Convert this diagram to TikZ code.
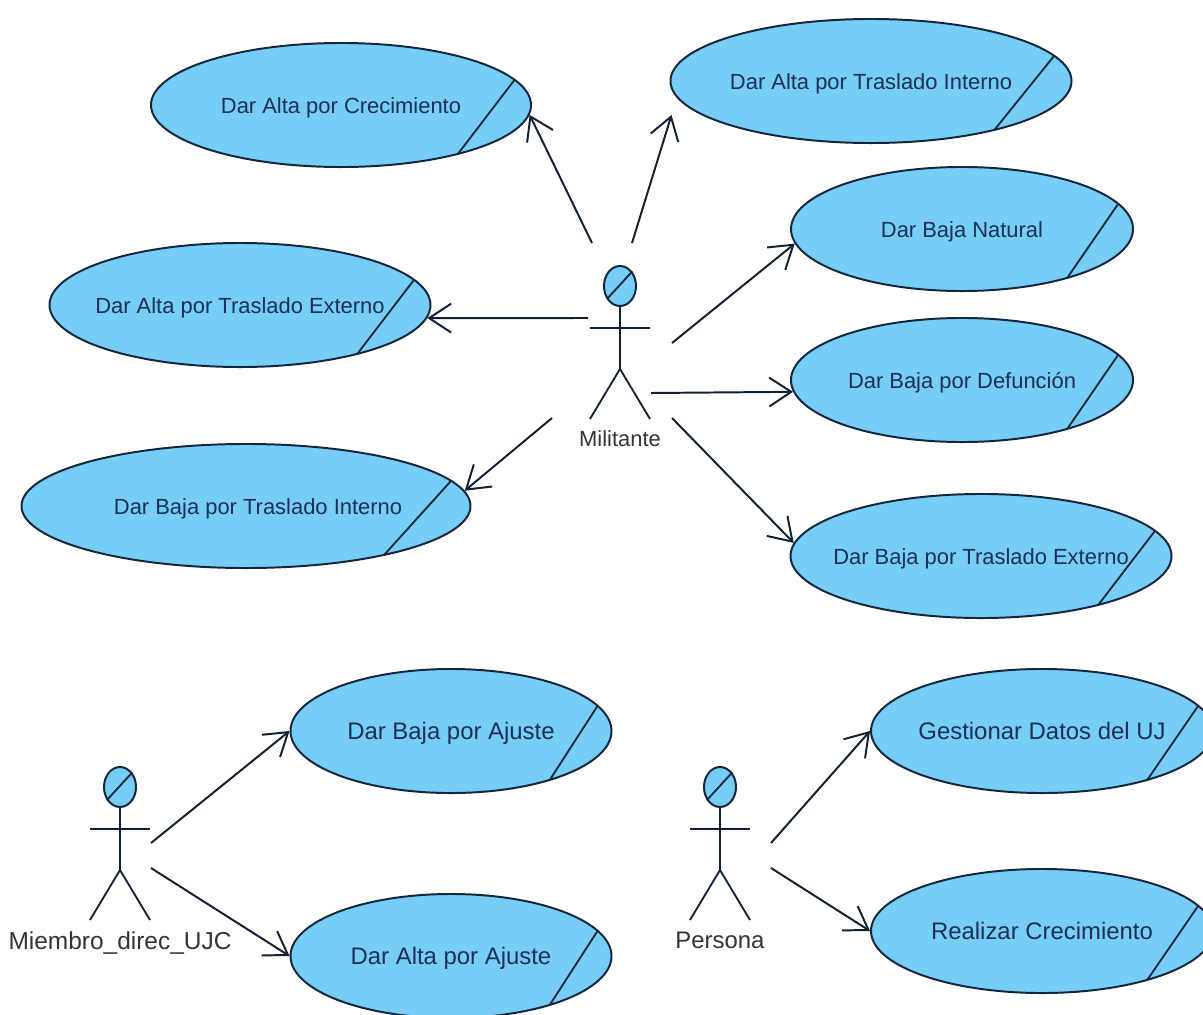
\documentclass[tikz,border=0pt]{standalone}
\usepackage{xcolor}
\usepackage{fontspec}
\setmainfont{Liberation Sans}
\usetikzlibrary{arrows.meta,shapes,calc,positioning}
\definecolor{ucfill}{HTML}{76CDF5}
\definecolor{ucline}{HTML}{14263C}
\definecolor{uctext}{HTML}{1B2F58}
\newcommand{\uctxt}[1]{\makebox[0pt]{\raisebox{-0.2cm}[0pt][0pt]{#1}}}
\begin{document}
\begin{tikzpicture}[x=0.025cm,y=-0.025cm,>={Straight Barb[length=0.55cm,width=0.72cm]}]
	\tikzstyle{every node}=[font=\fontsize{15.6}{18}\selectfont]
	\tikzstyle{usecase}=[ellipse,draw=ucline,fill=ucfill,line width=1.4pt,inner sep=0pt,minimum height=3.1cm,text=uctext]
	\tikzstyle{bigcase}=[usecase,font=\fontsize{17}{20}\selectfont]
	\tikzstyle{actorhead}=[ellipse,draw=ucline,fill=ucfill,line width=1.4pt,inner sep=0pt,minimum width=0.8cm,minimum height=1cm]
	\tikzstyle{stick}=[line width=1.3pt,draw=ucline!85!black]
	\tikzstyle{assoc}=[line width=1.4pt,draw=ucline!85!black,->]
	\path [use as bounding box,clip] (0,0) rectangle (1203,1014);
	\foreach \nm/\cx/\cy/\wid/\txt in {
		altacrec/341/105/380/{Dar Alta por Crecimiento},
		altaint/871/81/401/{Dar Alta por Traslado Interno},
		bajanat/962/229/342/{Dar Baja Natural},
		bajadef/962/380/342/{Dar Baja por Defunción},
		bajaext/981/556/381/{Dar Baja por Traslado Externo},
		altaext/240/305/381/{Dar Alta por Traslado Externo},
		bajaint/246/506/449/{\hspace*{0.6cm}Dar Baja por Traslado Interno}}
	{
		\node [usecase,minimum width=\wid*0.025cm] (\nm) at (\cx,\cy) {\uctxt{\txt}};
		\draw [ucline,line width=1.3pt] ($(\nm)+({\wid/2*cos(24)},{-62*sin(24)})$) -- ($(\nm)+({\wid/2*cos(52)},{62*sin(52)})$);
	}
	\foreach \nm/\cx/\cy/\wid/\txt in {
		bajaaju/451/731/321/{Dar Baja por Ajuste},
		altaaju/451/956/321/{Dar Alta por Ajuste},
		gestdat/1042/731/342/{Gestionar Datos del UJ},
		realcre/1042/931/342/{Realizar Crecimiento}}
	{
		\node [bigcase,minimum width=\wid*0.025cm] (\nm) at (\cx,\cy) {\uctxt{\txt}};
		\draw [ucline,line width=1.3pt] ($(\nm)+({\wid/2*cos(24)},{-62*sin(24)})$) -- ($(\nm)+({\wid/2*cos(52)},{62*sin(52)})$);
	}
	\foreach \nm/\cx/\cy/\sz/\txt in {
		militante/620/286/15.6/{Militante},
		miembro/120/787/17.4/{Miembro\_direc\_UJC},
		persona/720/787/17/{Persona}}
	{
		\node [actorhead] (\nm) at (\cx,\cy) {};
		\draw [ucline,line width=1.3pt] (\nm.225) -- (\nm.50);
		\draw [stick] (\nm.south) -- ++(0,62) coordinate (\nm hip);
		\draw [stick] ($(\nm hip)+(-30,-41)$) -- ($(\nm hip)+(30,-41)$);
		\draw [stick] ($(\nm hip)+(-30,50)$) -- (\nm hip) -- ($(\nm hip)+(30,50)$);
		\node [font=\fontsize{\sz}{20}\selectfont,text=black!80,below=0pt of \nm hip,yshift=-1.42cm] (\nm label) {\txt};
	}
	\coordinate (m1) at (592,243);
	\coordinate (m2) at (632,243);
	\coordinate (m3) at (672,343);
	\coordinate (m4) at (651,393);
	\coordinate (m5) at (672,418);
	\coordinate (m6) at (588,318);
	\coordinate (m7) at (552,418);
	\coordinate (d1) at (151,843);
	\coordinate (d2) at (151,868);
	\coordinate (p1) at (771,843);
	\coordinate (p2) at (771,868);
	\coordinate (altaint tip) at ($(altaint.west)+(2,34)$);
	\foreach \from/\to in {m1/altacrec.-3,m2/altaint tip,m3/bajanat.185,m4/bajadef.184,m5/bajaext.176,m6/altaext.-4,m7/bajaint.4,d1/bajaaju.west,d2/altaaju.west,p1/gestdat.west,p2/realcre.west}
		\draw [assoc] (\from) -- (\to);
\end{tikzpicture}
\end{document}
